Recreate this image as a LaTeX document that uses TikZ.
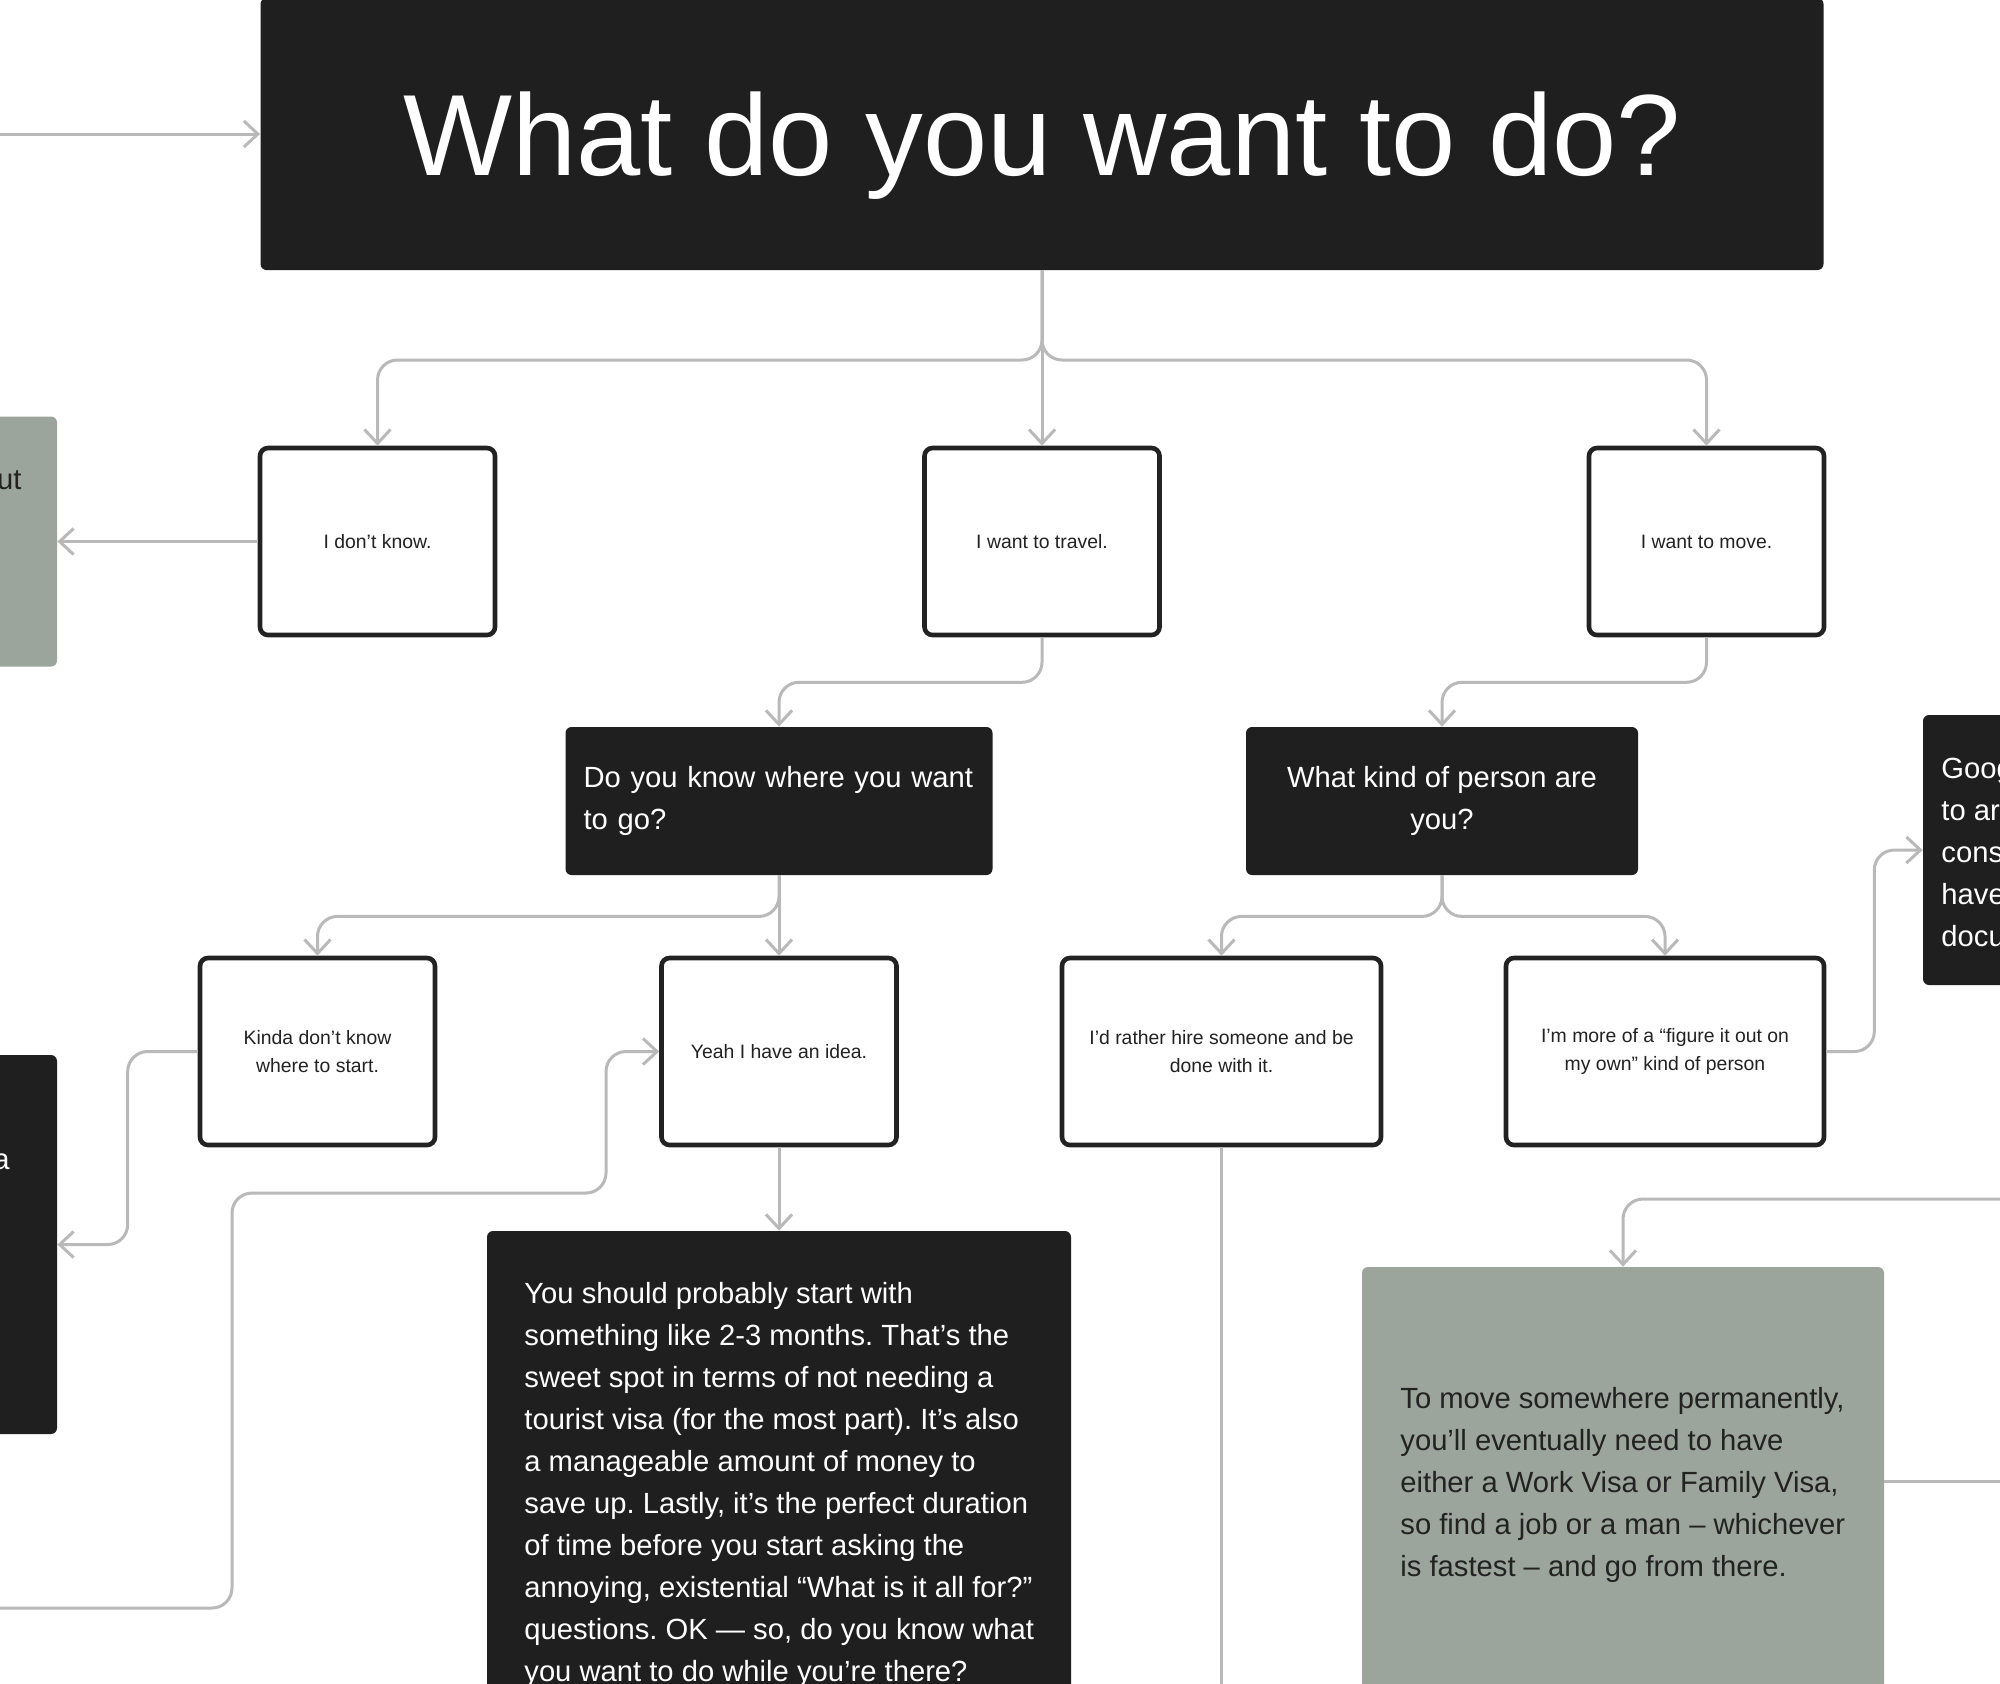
\documentclass[tikz,border=0pt]{standalone}
\usepackage{fontspec}
\setmainfont{Liberation Sans}
\usetikzlibrary{arrows.meta}
\definecolor{ink}{HTML}{1F1F1F}
\definecolor{sage}{HTML}{9CA59B}
\definecolor{wirec}{HTML}{B9B9B9}
\definecolor{edgec}{HTML}{222222}
\newcommand\ftitle{\fontsize{57.75}{69}\selectfont}
\newcommand\fmed{\fontsize{14.6}{21}\selectfont}
\newcommand\fsmall{\fontsize{9.7}{14}\selectfont}
\frenchspacing
\begin{document}
\frenchspacing
\begin{tikzpicture}[x=0.5pt,y=-0.5pt,
  darkbox/.style={fill=ink, draw=none, rounded corners=3pt, text=white, inner sep=0pt},
  sagebox/.style={fill=sage, draw=none, rounded corners=3pt, text=edgec, inner sep=0pt},
  choice/.style={draw=edgec, line width=2.3pt, fill=white, rounded corners=4pt, text=edgec,
    align=center, inner sep=0pt, font=\fsmall, minimum height=93.5pt},
  plain/.style={inner sep=0pt, font=\fmed},
  wire/.style={draw=wirec, line width=1.5pt, rounded corners=10pt},
  arr/.style={wire, -{Straight Barb[length=7pt,width=13pt]}},
]
\clip (0,0) rectangle (2000,1683);
\fill[white] (0,0) rectangle (2000,1683);

% title
\node[darkbox, minimum width=781.5pt, minimum height=136pt, font=\ftitle, text depth=0pt] (title) at (1042,134) {What do you want to do?};

% first row
\node[choice, minimum width=117.5pt] (dk) at (377.5,541.5) {I don’t know.};
\node[choice, minimum width=117.5pt] (tr) at (1042,541.5) {I want to travel.};
\node[choice, minimum width=117.5pt] (mv) at (1706.5,541.5) {I want to move.};

% questions
\node[darkbox, minimum width=213.5pt, minimum height=74pt, text width=195.5pt, inner xsep=9pt, align=left, font=\fmed] (dq) at (779,801) {\raisebox{-2pt}{}Do you know where you want\\to go?};
\node[darkbox, minimum width=196pt, minimum height=74pt, align=center, font=\fmed] (wk) at (1442,801) {What kind of person are\\you?};

% second row
\node[choice, minimum width=117.5pt] (kd) at (317.5,1051.5) {Kinda don’t know\\where to start.};
\node[choice, minimum width=117.5pt] (yh) at (779,1051.5) {Yeah I have an idea.};
\node[choice, minimum width=159.5pt] (hr) at (1221.5,1051.5) {I’d rather hire someone and be\\done with it.};
\node[choice, minimum width=159pt] (fo) at (1665,1051.5) {I’m more of a “figure it out on\\my own” kind of person};

% side boxes (cut by the edges)
\node[sagebox, minimum width=38.5pt, minimum height=125pt] (lg) at (18.5,541.5) {};
\node[plain, anchor=east, text=edgec] (lgtxt) at (22,480) {ut};
\node[darkbox, minimum width=38.5pt, minimum height=189.5pt] (lb) at (18.5,1244.5) {};
\node[plain, anchor=east, text=white] (lbtxt) at (10,1162) {a};
\node[darkbox, minimum width=48.5pt, minimum height=135pt] (rb) at (1971.5,850) {};
\node[plain, anchor=west, text=white, align=left] (rbtxt) at (1941,852) {Goog\\to ar\\cons\\have\\docu};

% answer boxes
\node[darkbox, minimum width=292pt, minimum height=244.5pt] (ans) at (779,1475.5) {};
\node[plain, anchor=west, text=white, align=left] (anstxt) at (524,1485) {You should probably start with\\something like 2-3 months. That’s the\\sweet spot in terms of not needing a\\tourist visa (for the most part). It’s also\\a manageable amount of money to\\save up. Lastly, it’s the perfect duration\\of time before you start asking the\\annoying, existential “What is it all for?”\\questions. OK — so, do you know what\\you want to do while you’re there?};
\node[sagebox, minimum width=261pt, minimum height=226.5pt] (gm) at (1623,1493.5) {};
\node[plain, anchor=west, text=edgec, align=left] (gmtxt) at (1400,1485) {To move somewhere permanently,\\you’ll eventually need to have\\either a Work Visa or Family Visa,\\so find a job or a man – whichever\\is fastest – and go from there.};

% free ends
\coordinate (tin) at (0,134);
\coordinate (lin) at (0,1608);
\coordinate (rin) at (2000,1199);
\coordinate (rout) at (2000,1481);
\coordinate (hrend) at (1221.5,1700);
\coordinate (j1) at (1042,360);

% connectors
\draw[arr] (tin) -- (title.west);
\draw[arr] (title.south) -- (j1) -| (dk.north);
\draw[arr] (title.south) -- (tr.north);
\draw[arr] (title.south) -- (j1) -| (mv.north);
\draw[arr] (dk.west) -- (lg.east);
\draw[arr] (tr.south) -- ++(0,45) -| (dq.north);
\draw[arr] (mv.south) -- ++(0,45) -| (wk.north);
\draw[arr] (dq.south) -- ++(0,41) -| (kd.north);
\draw[arr] (dq.south) -- (yh.north);
\draw[arr] (wk.south) -- ++(0,41) -| (hr.north);
\draw[arr] (wk.south) -- ++(0,41) -| (fo.north);
\draw[arr] (kd.west) -- ++(-70,0) |- (lb.east);
\draw[arr] (lin) -| (232,1193) -- (606,1193) |- (yh.west);
\draw[arr] (yh.south) -- (ans.north);
\draw[wire] (hr.south) -- (hrend);
\draw[arr] (fo.east) -- ++(48,0) |- (rb.west);
\draw[arr] (rin) -| (gm.north);
\draw[wire] (gm.east |- rout) -- (rout);
\end{tikzpicture}
\end{document}
